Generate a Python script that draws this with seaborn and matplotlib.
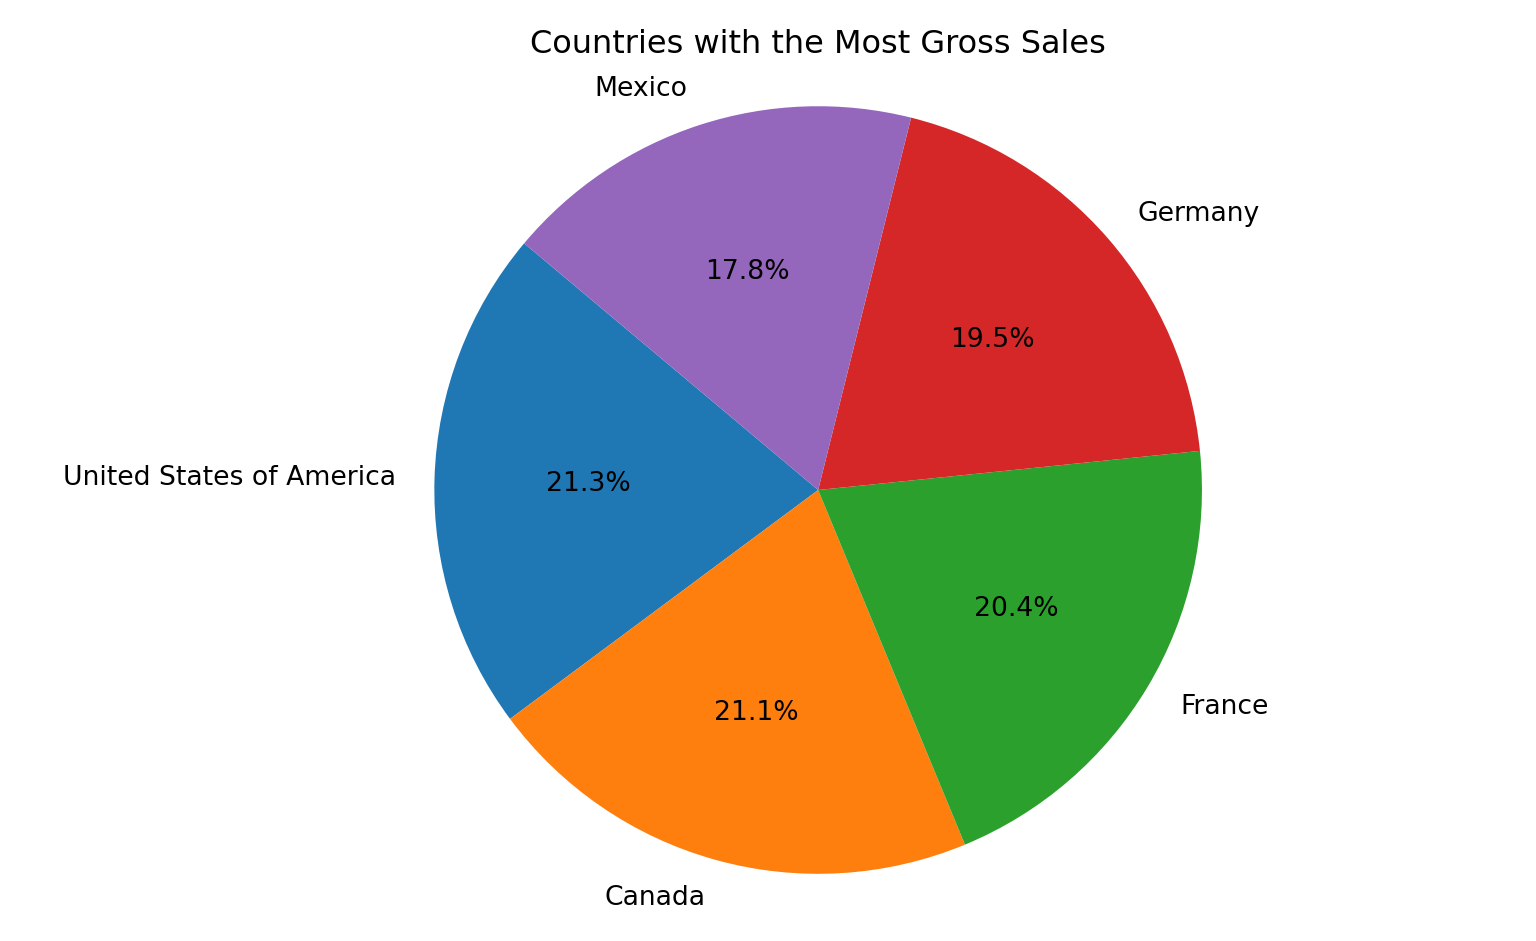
import matplotlib
matplotlib.use("Agg")
import matplotlib.pyplot as plt
import seaborn as sns

countries = ["United States of America", "Canada", "France", "Germany", "Mexico"]
shares = [21.3, 21.1, 20.4, 19.5, 17.8]

colors = sns.color_palette("tab10", 5)

fig, ax = plt.subplots(figsize=(8, 4.906), dpi=192)
ax.pie(shares, labels=countries, colors=colors, autopct="%1.1f%%", startangle=140)
ax.axis("equal")
ax.set_title("Countries with the Most Gross Sales")
fig.tight_layout()
fig.savefig("out.png", dpi=192)
